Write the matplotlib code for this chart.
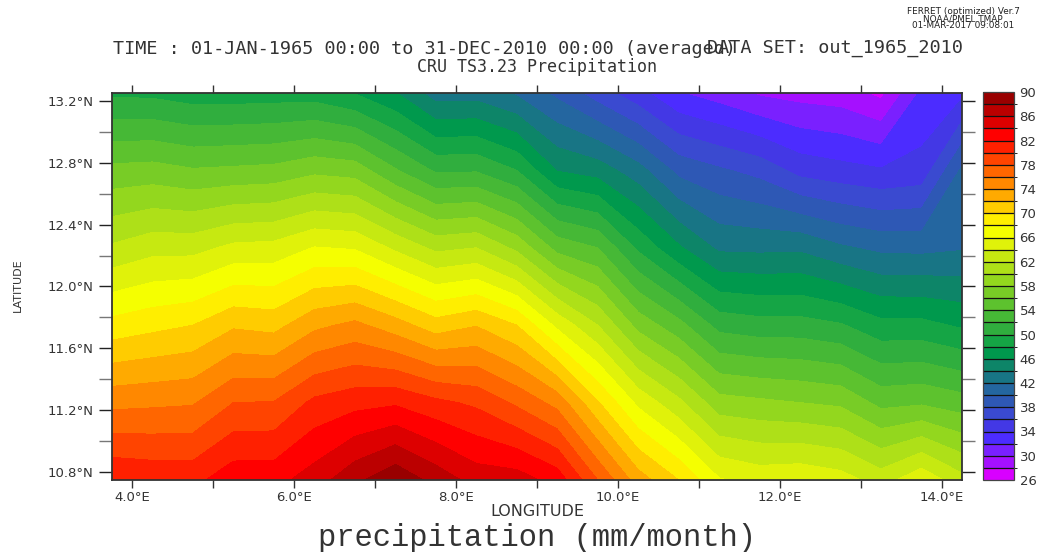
import matplotlib
matplotlib.use("Agg")
import matplotlib.pyplot as plt
from matplotlib.colors import ListedColormap, BoundaryNorm
from matplotlib.ticker import MultipleLocator
import numpy as np

# grid nodes of the CRU data (0.5 degree)
lons = [3.75, 4.25, 4.75, 5.25, 5.75, 6.25, 6.75, 7.25, 7.75, 8.25, 8.75,
        9.25, 9.75, 10.25, 10.75, 11.25, 11.75, 12.25, 12.75, 13.25, 13.75, 14.25]
lats = [10.75, 11.25, 11.75, 12.25, 12.75, 13.25]

# one list per latitude, west to east
precip_1075 = [81.9, 81.5, 81.4, 83.3, 83.3, 85.0, 87.5, 89.6, 87.3, 85.2, 85.0,
               83.2, 78.0, 73.0, 70.0, 66.2, 65.3, 65.6, 64.9, 63.1, 65.5, 62.7]
precip_1125 = [75.4, 75.6, 75.8, 78.0, 78.1, 80.5, 81.3, 81.7, 80.5, 79.6, 77.6,
               75.3, 70.2, 65.5, 62.5, 58.8, 58.4, 58.0, 57.6, 55.4, 55.7, 54.9]
precip_1175 = [68.7, 69.4, 70.0, 71.7, 71.3, 73.5, 74.5, 72.9, 70.9, 71.9, 70.0,
               65.5, 62.0, 57.3, 54.7, 51.3, 50.8, 50.8, 50.2, 48.6, 48.6, 47.7]
precip_1225 = [62.3, 63.3, 63.3, 64.5, 64.7, 66.1, 65.8, 63.6, 61.5, 62.0, 59.5,
               55.3, 54.0, 49.6, 46.3, 43.6, 43.5, 43.6, 42.3, 41.5, 41.4, 41.8]
precip_1275 = [56.6, 56.8, 56.2, 56.4, 56.6, 57.5, 57.1, 54.2, 51.7, 51.8, 50.0,
               45.9, 45.1, 42.8, 39.4, 38.3, 37.3, 35.3, 34.7, 34.2, 34.7, 40.4]
precip_1325 = [49.6, 49.5, 48.9, 48.9, 49.0, 49.0, 47.9, 46.1, 43.0, 43.1, 41.7,
               39.5, 37.0, 34.7, 32.1, 31.0, 29.7, 29.2, 28.9, 27.5, 32.4, 33.5]

levels = list(range(26, 92, 2))
band_colors = ["#d800ff", "#a510ff", "#7a20ff", "#4c2cff", "#4338e5", "#3a4ad0",
               "#2e58b5", "#2466a0", "#187585", "#0d8568", "#00994d", "#15a545",
               "#30ae3e", "#46b836", "#5dc22e", "#78cc26", "#93d71e", "#aee018",
               "#c6e911", "#e0f20a", "#f5ff00", "#ffee00", "#ffcc00", "#ffaa00",
               "#ff8800", "#ff6600", "#ff4400", "#ff2000", "#ff0000", "#dd0000",
               "#bb0000", "#990000"]

W, H = 1042, 552


def box(x0, y0, x1, y1):
    # pixel box of the reference -> figure fractions
    return [x0 / W, 1 - y1 / H, (x1 - x0) / W, (y1 - y0) / H]


def put(x, y, s, **kw):
    plt.figtext(x / W, 1 - y / H, s, **kw)


z = np.array([precip_1075, precip_1125, precip_1175, precip_1225, precip_1275, precip_1325])
cmap = ListedColormap(band_colors)
norm = BoundaryNorm(levels, cmap.N)

fig = plt.figure(figsize=(W / 100, H / 100), dpi=100)
ax = fig.add_axes(box(112, 93, 962, 480))
cf = ax.contourf(lons, lats, z, levels=levels, cmap=cmap, norm=norm)

ax.set_xlim(3.75, 14.25)
ax.set_ylim(10.75, 13.25)
ax.set_xticks([4, 6, 8, 10, 12, 14])
ax.set_xticklabels(["4.0°E", "6.0°E", "8.0°E", "10.0°E", "12.0°E", "14.0°E"], fontsize=9.5, color="#333333")
ax.xaxis.set_minor_locator(MultipleLocator(1))
ax.set_yticks([10.8, 11.2, 11.6, 12.0, 12.4, 12.8, 13.2])
ax.set_yticklabels(["10.8°N", "11.2°N", "11.6°N", "12.0°N", "12.4°N", "12.8°N", "13.2°N"], fontsize=9.5, color="#333333")
ax.yaxis.set_minor_locator(MultipleLocator(0.2))
ax.tick_params(axis="x", which="both", direction="out", length=6, width=1, top=True, color="#333333", pad=2)
ax.tick_params(axis="y", which="major", direction="out", length=9.5, width=1, right=True, color="#222222", pad=4)
ax.tick_params(axis="y", which="minor", direction="out", length=9.5, width=1, right=True, color="#777777")
for s in ax.spines.values():
    s.set_linewidth(1.3)
    s.set_color("#333333")

cax = fig.add_axes(box(983, 92, 1014, 480))
cb = fig.colorbar(cf, cax=cax, drawedges=True)
cb.set_ticks(levels[::2])
cb.ax.tick_params(length=0, labelsize=9.5, pad=4, labelcolor="#333333")
cb.dividers.set_color("#111111")
cb.dividers.set_linewidth(0.9)
cb.outline.set_edgecolor("#444444")
cb.outline.set_linewidth(0.9)

put(537, 511, "LONGITUDE", fontsize=11.5, ha="center", va="center", color="#333333")
put(18, 285, "LATITUDE", fontsize=8, ha="center", va="center", rotation=90, color="#333333")

put(113, 49, "TIME : 01-JAN-1965 00:00 to 31-DEC-2010 00:00 (averaged)", fontsize=13.3, family="DejaVu Sans Mono", ha="left", va="center", color="#333333")
put(707, 48, "DATA SET: out_1965_2010", fontsize=13.3, family="DejaVu Sans Mono", ha="left", va="center", color="#333333")
put(537, 67, "CRU TS3.23 Precipitation", fontsize=12, family="DejaVu Sans Mono", ha="center", va="center", color="#333333")

put(963, 12, "FERRET (optimized) Ver.7", fontsize=6.4, ha="center", va="center", color="#222222")
put(963, 19, "NOAA/PMEL TMAP", fontsize=6.4, ha="center", va="center", color="#222222")
put(963, 26, "01-MAR-2017 09:08:01", fontsize=6.4, ha="center", va="center", color="#222222")

put(537, 538, "precipitation (mm/month)", fontsize=22, family="Liberation Mono", ha="center", va="center", color="#333333")

plt.savefig("out.png", dpi=100)
